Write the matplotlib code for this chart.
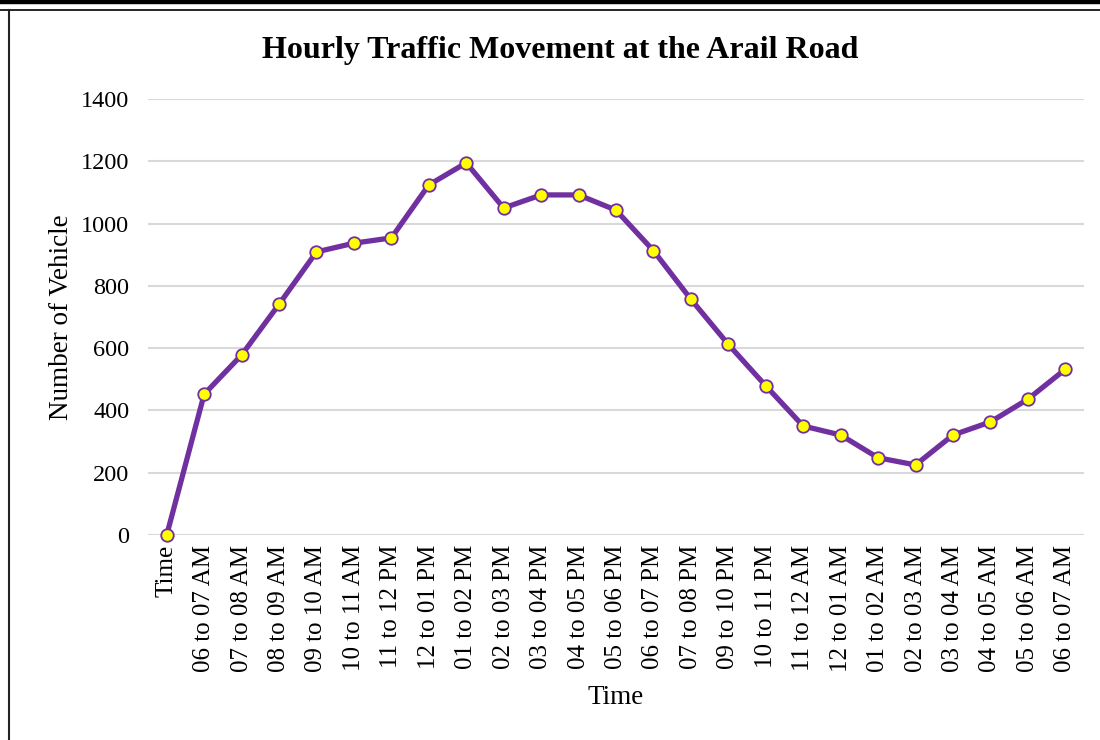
import matplotlib
matplotlib.use("Agg")
import matplotlib.pyplot as plt
from matplotlib.lines import Line2D

# hourly counts
hours = ["Time", "06 to 07 AM", "07 to 08 AM", "08 to 09 AM", "09 to 10 AM",
         "10 to 11 AM", "11 to 12 PM", "12 to 01 PM", "01 to 02 PM",
         "02 to 03 PM", "03 to 04 PM", "04 to 05 PM", "05 to 06 PM",
         "06 to 07 PM", "07 to 08 PM", "09 to 10 PM", "10 to 11 PM",
         "11 to 12 AM", "12 to 01 AM", "01 to 02 AM", "02 to 03 AM",
         "03 to 04 AM", "04 to 05 AM", "05 to 06 AM", "06 to 07 AM"]
vehicles = [0, 452, 578, 741, 909, 937, 954, 1124, 1195, 1050, 1092, 1092,
            1043, 913, 757, 612, 479, 350, 321, 248, 225, 321, 363, 436, 532]
y_ticks = [0, 200, 400, 600, 800, 1000, 1200, 1400]

W, H = 1100, 740
plt.rcParams['font.family'] = ['Liberation Serif', 'DejaVu Serif']

fig = plt.figure(figsize=(W / 100, H / 100), dpi=100)
ax = fig.add_axes([148 / W, 1 - 535 / H, (1084 - 148) / W, (535 - 99) / H])

x = list(range(len(hours)))
ax.plot(x, vehicles, color='#7030A0', lw=3.8, marker='o', markersize=9,
        markerfacecolor='#FFFF00', markeredgecolor='#7030A0',
        markeredgewidth=1.3, zorder=3, clip_on=False)

ax.set_xlim(-0.5, len(hours) - 0.5)
ax.set_ylim(0, 1400)
ax.set_yticks(y_ticks)
ax.set_xticks(x)
ax.set_xticklabels(hours, rotation=90, fontsize=18)
ax.tick_params(axis='y', labelsize=17.5, length=0, pad=13.5)
ax.tick_params(axis='x', length=0, pad=7)
ax.grid(axis='y', color='#D9D9D9', lw=1.5)
ax.set_axisbelow(True)
for s in ax.spines.values():
    s.set_visible(False)

fig.text(560 / W, 1 - 58 / H, "Hourly Traffic Movement at the Arail Road",
         ha='center', va='baseline', fontsize=23, fontweight='bold')
fig.text(62 / W, 1 - 317 / H, "Number of Vehicle", rotation=90,
         ha='center', va='center', fontsize=19.5)
fig.text(616 / W, 1 - 697 / H, "Time", ha='center', va='center', fontsize=19.5)

# page frame lines
fig.add_artist(Line2D([0, 1], [1 - 2 / H, 1 - 2 / H], transform=fig.transFigure,
                      color='black', lw=3.2))
fig.add_artist(Line2D([0, 1], [1 - 9.5 / H, 1 - 9.5 / H], transform=fig.transFigure,
                      color='black', lw=1.2))
fig.add_artist(Line2D([9 / W, 9 / W], [0, 1 - 9.5 / H], transform=fig.transFigure,
                      color='#222222', lw=1.5))

fig.savefig("out.png", dpi=100)
